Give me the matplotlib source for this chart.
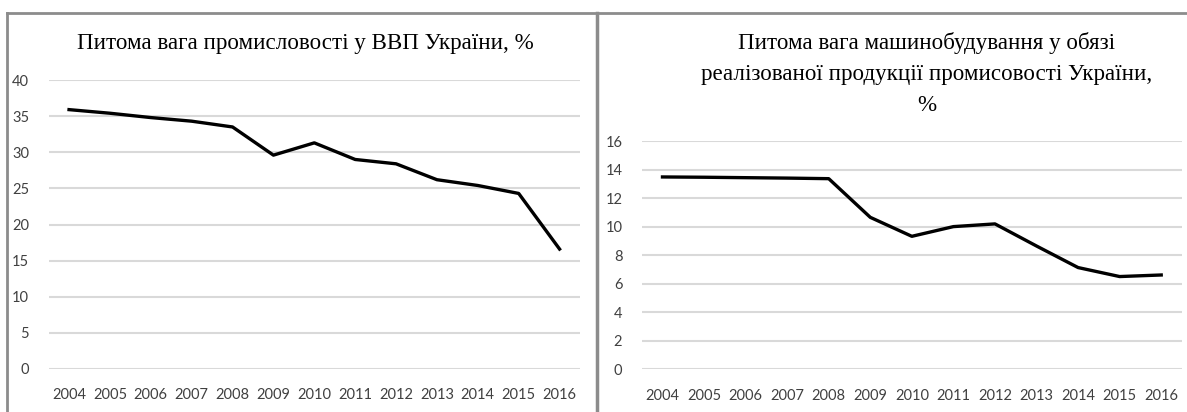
import matplotlib
matplotlib.use("Agg")
import matplotlib.pyplot as plt
from matplotlib.lines import Line2D

# Data
years = ["2004", "2005", "2006", "2007", "2008", "2009", "2010",
         "2011", "2012", "2013", "2014", "2015", "2016"]
industry_share_gdp = [35.9, 35.4, 34.8, 34.3, 33.5, 29.6, 31.3,
                      29.0, 28.4, 26.2, 25.4, 24.3, 16.6]
machinery_share = [13.48, 13.46, 13.43, 13.40, 13.36, 10.65, 9.32,
                   10.0, 10.19, 8.64, 7.13, 6.50, 6.61]

title_left = "Питома вага промисловості у ВВП України, %"
title_right = ("Питома вага машинобудування у обязі\n"
               "реалізованої продукції промисовості України,\n%")

W, H = 1187, 412
fig = plt.figure(figsize=(W / 100, H / 100), dpi=100)
fig.patch.set_facecolor("white")

tick_font = "Lato"
title_font = "Liberation Serif"
grid_col = "#d9d9d9"
tick_col = "#404040"


def px_axes(x0, y0, x1, y1):
    # pixel box (top-left origin) -> figure fraction axes
    return fig.add_axes([x0 / W, 1 - y1 / H, (x1 - x0) / W, (y1 - y0) / H])


def style(ax, ymax, step):
    ax.set_xlim(-0.5, len(years) - 0.5)
    ax.set_ylim(0, ymax)
    ax.set_yticks(range(0, ymax + 1, step))
    ax.set_xticks(range(len(years)))
    ax.set_xticklabels(years)
    for s in ax.spines.values():
        s.set_visible(False)
    ax.yaxis.grid(True, color=grid_col, linewidth=1.5)
    ax.set_axisbelow(True)
    ax.tick_params(length=0, labelsize=10.5, labelcolor=tick_col)
    ax.tick_params(axis="y", pad=14)
    ax.tick_params(axis="x", pad=14)
    for lab in ax.get_xticklabels() + ax.get_yticklabels():
        lab.set_fontfamily(tick_font)


ax1 = px_axes(48.6, 80, 580, 369)
ax1.plot(range(len(years)), industry_share_gdp, color="black", linewidth=2.4)
style(ax1, 40, 5)

ax2 = px_axes(641.7, 141, 1182, 369.3)
ax2.plot(range(len(years)), machinery_share, color="black", linewidth=2.4)
style(ax2, 16, 2)

fig.text(305 / W, 1 - 43 / H, title_left, ha="center", va="center",
         fontsize=16.6, family=title_font, color="black")
fig.text(927 / W, 1 - 74 / H, title_right, ha="center", va="center",
         fontsize=16.6, family=title_font, color="black", linespacing=1.62)

# panel borders
border = "#8c8c8c"
fig.add_artist(Line2D([6.5 / W, 6.5 / W], [0, 1 - 13 / H], color=border, lw=2))
fig.add_artist(Line2D([6.5 / W, 1], [1 - 13 / H, 1 - 13 / H], color=border, lw=2))
fig.add_artist(Line2D([597 / W, 597 / W], [0, 1 - 13 / H], color=border, lw=2.5))

fig.savefig("out.png", dpi=100)
